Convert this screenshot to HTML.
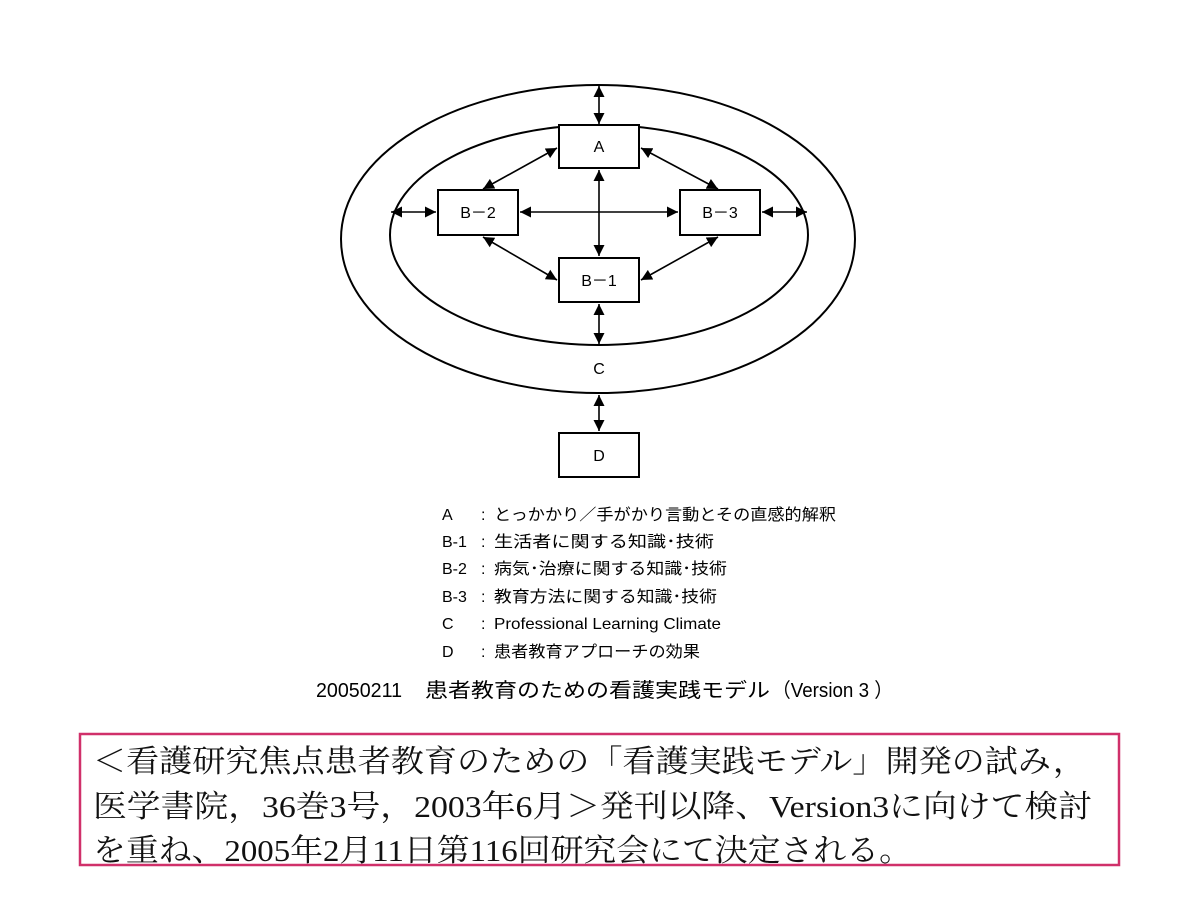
<!DOCTYPE html>
<html><head><meta charset="utf-8"><style>
html,body{margin:0;padding:0;background:#fff;}
svg{display:block}
.s{font-family:"Liberation Sans","Noto Sans CJK JP",sans-serif;fill:#000}
.m{font-family:"Liberation Serif","Noto Serif CJK SC",serif;fill:#111}
</style></head><body>
<svg width="1200" height="900" viewBox="0 0 1200 900" xmlns="http://www.w3.org/2000/svg">
<defs>
<marker id="ah" viewBox="0 0 10 10" refX="10" refY="5" markerWidth="11" markerHeight="11" markerUnits="userSpaceOnUse" orient="auto-start-reverse">
<path d="M0,0 L10,5 L0,10 z" fill="#000"/></marker>
</defs>
<g fill="none" stroke="#000" stroke-width="2">
<ellipse cx="598" cy="239" rx="257" ry="154"/>
<ellipse cx="599" cy="235" rx="209" ry="110"/>
<rect x="559" y="125" width="80" height="43" fill="#fff"/>
<rect x="438" y="190" width="80" height="45" fill="#fff"/>
<rect x="680" y="190" width="80" height="45" fill="#fff"/>
<rect x="559" y="258" width="80" height="44" fill="#fff"/>
<rect x="559" y="433" width="80" height="44" fill="#fff"/>
</g>
<g stroke="#000" stroke-width="1.6" marker-start="url(#ah)" marker-end="url(#ah)">
<line x1="599" y1="86" x2="599" y2="124"/>
<line x1="557" y1="148" x2="483" y2="189"/>
<line x1="641" y1="148" x2="718" y2="189"/>
<line x1="483" y1="237" x2="557" y2="280"/>
<line x1="718" y1="237" x2="641" y2="280"/>
<line x1="520" y1="212" x2="678" y2="212"/>
<line x1="599" y1="170" x2="599" y2="256"/>
<line x1="391" y1="212" x2="436" y2="212"/>
<line x1="762" y1="212" x2="807" y2="212"/>
<line x1="599" y1="304" x2="599" y2="344"/>
<line x1="599" y1="395" x2="599" y2="431"/>
</g>
<g class="s" font-size="16" text-anchor="middle">
<text x="599" y="152">A</text>
<text x="478" y="218">B－2</text>
<text x="720" y="218">B－3</text>
<text x="599" y="286">B－1</text>
<text x="599" y="374">C</text>
<text x="599" y="461">D</text>
</g>
<g class="s" font-size="16">
<text x="442" y="520">A</text><text x="481" y="520">:</text><text x="494" y="520" textLength="342" lengthAdjust="spacingAndGlyphs">とっかかり／手がかり言動とその直感的解釈</text>
<text x="442" y="547">B-1</text><text x="481" y="547">:</text><text x="494" y="547" textLength="220" lengthAdjust="spacingAndGlyphs">生活者に関する知識･技術</text>
<text x="442" y="574">B-2</text><text x="481" y="574">:</text><text x="494" y="574" textLength="233" lengthAdjust="spacingAndGlyphs">病気･治療に関する知識･技術</text>
<text x="442" y="602">B-3</text><text x="481" y="602">:</text><text x="494" y="602" textLength="223" lengthAdjust="spacingAndGlyphs">教育方法に関する知識･技術</text>
<text x="442" y="629">C</text><text x="481" y="629">:</text><text x="494" y="629" textLength="227" lengthAdjust="spacingAndGlyphs">Professional Learning Climate</text>
<text x="442" y="657">D</text><text x="481" y="657">:</text><text x="494" y="657" textLength="206" lengthAdjust="spacingAndGlyphs">患者教育アプローチの効果</text>
</g>
<g class="s" font-size="20">
<text x="316" y="697" textLength="86" lengthAdjust="spacingAndGlyphs">20050211</text>
<text x="425" y="697" textLength="345" lengthAdjust="spacingAndGlyphs">患者教育のための看護実践モデル</text>
<text x="772" y="697" textLength="121" lengthAdjust="spacingAndGlyphs">（Version 3 ）</text>
</g>
<rect x="80" y="734" width="1039" height="131" fill="none" stroke="#d0306a" stroke-width="2.5"/>
<g class="m" font-size="31">
<text x="93" y="772" textLength="993" lengthAdjust="spacingAndGlyphs">＜看護研究焦点患者教育のための「看護実践モデル」開発の試み，</text>
<text x="93" y="817" textLength="999" lengthAdjust="spacingAndGlyphs">医学書院，36巻3号，2003年6月＞発刊以降、Version3に向けて検討</text>
<text x="93" y="861" textLength="819" lengthAdjust="spacingAndGlyphs">を重ね、2005年2月11日第116回研究会にて決定される。</text>
</g>
</svg>
</body></html>
